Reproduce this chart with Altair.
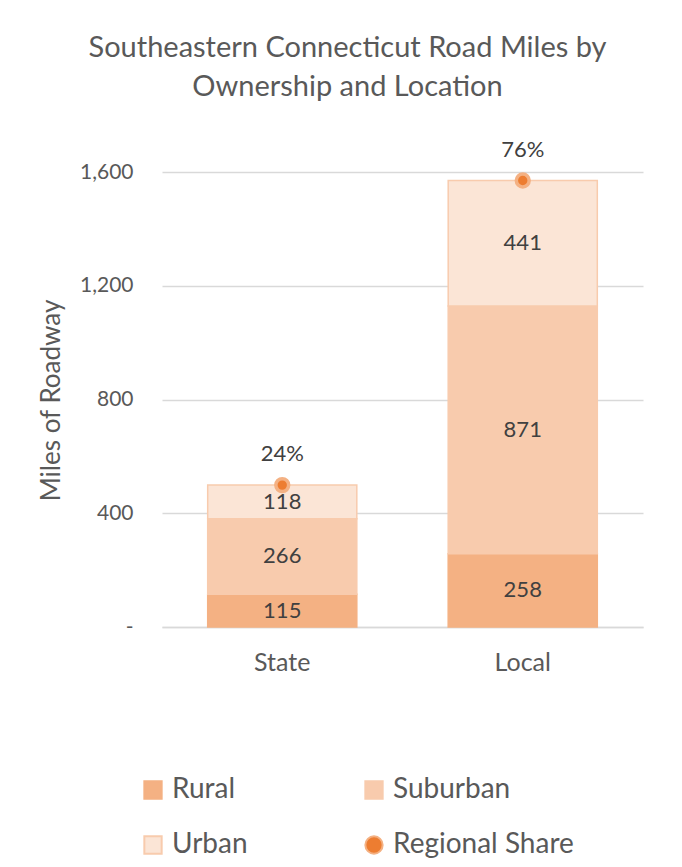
import altair as alt
import pandas as pd

categories = ["State", "Local"]
series = ["Rural", "Suburban", "Urban"]
rural = [115, 258]
suburban = [266, 871]
urban = [118, 441]
share_labels = ["24%", "76%"]
legend_items = ["Rural", "Suburban", "Urban", "Regional Share"]
fill_colors = ["#F4B183", "#F8CBAD", "#FBE5D6", "#ED7D31"]
stroke_colors = ["#F4B183", "#F8CBAD", "#F8CBAD", "#F4B183"]
shapes = ["square", "square", "square", "circle"]
y_ticks = [0, 400, 800, 1200, 1600]

rows = []
for i, cat in enumerate(categories):
    base = 0
    for j, (name, vals) in enumerate(zip(series, [rural, suburban, urban])):
        v = vals[i]
        rows.append({"Ownership": cat, "Type": name, "idx": j, "Miles": v,
                     "y0": base, "y1": base + v, "mid": base + v / 2})
        base += v
seg = pd.DataFrame(rows)

tot = pd.DataFrame({
    "Ownership": categories,
    "Type": ["Regional Share"] * len(categories),
    "Total": [r + s + u for r, s, u in zip(rural, suburban, urban)],
    "Share": share_labels,
})

x_enc = alt.X("Ownership:N", sort=categories, title=None,
              scale=alt.Scale(paddingInner=0.38, paddingOuter=0.19),
              axis=alt.Axis(labelAngle=0, ticks=False, labelPadding=23,
                            labelFontSize=25, labelColor="#595959",
                            domainColor="#D9D9D9", domainWidth=1.5))

y_scale = alt.Scale(domain=[0, 1600], nice=False)
color_scale = alt.Scale(domain=legend_items, range=fill_colors)
stroke_scale = alt.Scale(domain=legend_items, range=stroke_colors)
shape_scale = alt.Scale(domain=legend_items, range=shapes)

legend = alt.Legend(title=None, orient="none", legendX=-23, legendY=604,
                    direction="horizontal",
                    columns=2, columnPadding=112, rowPadding=27,
                    labelFontSize=28, labelColor="#595959", labelOffset=5,
                    labelLimit=400,
                    symbolSize=300, symbolStrokeWidth=2)

bars = alt.Chart(seg).mark_bar(strokeWidth=1.5).encode(
    x=x_enc,
    y=alt.Y("y0:Q", scale=y_scale, title="Miles of Roadway",
            axis=alt.Axis(values=y_ticks, ticks=False, domain=False, labelPadding=29,
                          labelFontSize=21, labelColor="#595959",
                          labelExpr="datum.value == 0 ? '-\u00a0\u00a0' : format(datum.value, ',')",
                          gridColor="#D9D9D9", gridWidth=1.5,
                          titleFontSize=26, titleColor="#595959", titleFontWeight="normal",
                          titleX=-111, titleY=228, titleAngle=-90,
                          titleAlign="center", titleBaseline="middle")),
    y2="y1:Q",
    color=alt.Color("Type:N", scale=color_scale, legend=legend),
    stroke=alt.Stroke("Type:N", scale=stroke_scale, legend=legend),
)

labels = alt.Chart(seg).mark_text(fontSize=22, color="#404040", baseline="middle").encode(
    x=alt.X("Ownership:N", sort=categories),
    y=alt.Y("mid:Q", scale=y_scale),
    text=alt.Text("Miles:Q"),
)

points = alt.Chart(tot).mark_point(filled=True, size=165, strokeWidth=3.5, opacity=1).encode(
    x=alt.X("Ownership:N", sort=categories),
    y=alt.Y("Total:Q", scale=y_scale),
    color=alt.Color("Type:N", scale=color_scale, legend=legend),
    stroke=alt.Stroke("Type:N", scale=stroke_scale, legend=legend),
    shape=alt.Shape("Type:N", scale=shape_scale, legend=legend),
)

share_text = alt.Chart(tot).mark_text(fontSize=22, color="#404040", baseline="middle", dy=-31).encode(
    x=alt.X("Ownership:N", sort=categories),
    y=alt.Y("Total:Q", scale=y_scale),
    text="Share:N",
)

chart = alt.layer(bars, labels, points, share_text).properties(
    width=481, height=455,
    autosize=alt.AutoSizeParams(type="none"),
    padding={"left": 154, "top": 164, "right": 20, "bottom": 232},
    title=alt.TitleParams(
        ["Southeastern Connecticut Road Miles by", "Ownership and Location"],
        fontSize=29, font="Lato", fontWeight="normal", color="#595959",
        anchor="middle", dx=-55, offset=8, baseline="bottom", lineHeight=39),
).configure(font="Lato").configure_view(stroke=None)

chart.save("out.html", embed_options={"renderer": "svg", "actions": False})
